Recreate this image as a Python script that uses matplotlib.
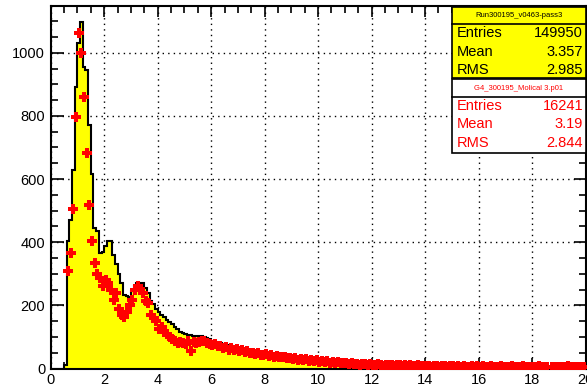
import numpy as np
import matplotlib.pyplot as plt
from matplotlib.patches import Rectangle
from matplotlib.lines import Line2D

plt.rcParams['font.family'] = ['Liberation Sans', 'DejaVu Sans']

# bin edges: 200 bins of 0.1 from 0 to 20
bin_lo = 0.0
bin_hi = 20.0
n_bins = 200

# data histogram (yellow), counts per bin, 10 bins per unit
run_counts = [
    0, 0, 0, 0, 0, 10, 405, 470, 630, 890,
    1030, 1097, 955, 945, 770, 615, 445, 435, 365, 370,
    388, 405, 405, 360, 330, 300, 270, 232, 230, 225,
    245, 262, 270, 272, 270, 255, 240, 215, 205, 190,
    180, 168, 162, 155, 148, 140, 130, 125, 115, 112,
    108, 106, 105, 103, 104, 101, 102, 100, 98, 92,
    86, 85, 82, 80, 78, 75, 73, 72, 68, 67,
    64, 62, 60, 58, 57, 55, 54, 52, 50, 49,
    47, 46, 44, 43, 42, 40, 39, 38, 37, 36,
    35, 34, 33, 31, 30, 28, 27, 26, 25, 24,
    23, 22, 21, 20, 20, 19, 19, 18, 17, 17,
    16, 16, 15, 15, 14, 14, 14, 13, 13, 12,
    12, 12, 11, 11, 11, 10, 10, 10, 10, 9,
    9, 9, 9, 9, 8, 8, 8, 8, 8, 7,
    7, 7, 7, 7, 7, 6, 6, 6, 6, 6,
    6, 6, 6, 5, 5, 5, 5, 5, 5, 5,
    5, 5, 5, 5, 4, 4, 4, 4, 4, 4,
    4, 4, 4, 4, 4, 4, 3, 3, 3, 3,
    3, 3, 3, 3, 3, 3, 3, 3, 3, 3,
    3, 3, 3, 3, 2, 2, 2, 2, 2, 2,
]

# simulation (red points), scaled counts per bin
g4_counts = [
    0, 0, 0, 0, 0, 0, 310, 365, 505, 797,
    1061, 1000, 861, 681, 518, 405, 333, 300, 286, 262,
    280, 272, 250, 217, 238, 190, 168, 164, 180, 200,
    217, 249, 262, 252, 238, 215, 208, 170, 160, 150,
    125, 130, 115, 108, 100, 95, 88, 80, 85, 82,
    78, 88, 55, 85, 82, 85, 88, 86, 80, 78,
    74, 78, 70, 72, 66, 68, 60, 64, 58, 62,
    55, 58, 52, 54, 48, 50, 46, 49, 44, 42,
    45, 40, 42, 38, 40, 36, 35, 37, 33, 34,
    30, 32, 28, 31, 27, 29, 25, 27, 24, 26,
    22, 25, 20, 23, 19, 21, 18, 22, 17, 19,
    16, 14, 17, 13, 15, 12, 14, 13, 11, 13,
    12, 10, 13, 11, 9, 12, 10, 11, 9, 10,
    10, 9, 11, 8, 10, 9, 8, 10, 9, 8,
    7, 8, 6, 8, 7, 6, 7, 8, 6, 7,
    7, 6, 8, 6, 7, 6, 5, 7, 6, 7,
    6, 7, 5, 6, 7, 6, 5, 6, 7, 6,
    6, 5, 7, 6, 5, 6, 7, 5, 6, 6,
    5, 6, 7, 5, 6, 6, 0, 6, 5, 6,
    6, 5, 6, 7, 5, 6, 5, 6, 5, 6,
]

run_title = 'Run300195_v0463-pass3'
run_stats = [('Entries', '149950'), ('Mean', '3.357'), ('RMS', '2.985')]
g4_title = 'G4_300195_Molical 3.p01'
g4_stats = [('Entries', '16241'), ('Mean', '3.19'), ('RMS', '2.844')]

W, H = 587, 390


def fx(px):
    return px / W


def fy(py):
    return 1 - py / H


fig = plt.figure(figsize=(W / 100, H / 100), dpi=100)
ax = fig.add_axes([fx(50.7), fy(368.5), fx(585.5 - 50.7), (368.5 - 6) / H])

edges = np.linspace(bin_lo, bin_hi, n_bins + 1)
centers = 0.5 * (edges[:-1] + edges[1:])
run = np.array(run_counts, dtype=float)
g4 = np.array(g4_counts, dtype=float)

ax.stairs(run, edges, fill=True, color='#ffff00', zorder=2)
ax.stairs(run, edges, color='black', lw=1.5, zorder=3)
m = g4 > 0
ax.plot(centers[m], g4[m], 'P', color='red', ms=6.5, mew=0, zorder=4)

ax.set_xlim(0, 20)
ax.set_ylim(0, 1148)
ax.set_xticks(np.arange(0, 21, 2))
ax.set_xticks(np.arange(0, 20.01, 0.5), minor=True)
ax.set_yticks(np.arange(0, 1001, 200))
ax.set_yticks(np.arange(0, 1148, 50), minor=True)
ax.grid(True, which='major', color='black', linestyle=(0, (1, 3)), lw=1, zorder=1)
ax.set_axisbelow(True)
ax.tick_params(which='both', direction='in', top=True, right=True, width=1.2,
               labelsize=10.5, colors='black')
ax.tick_params(axis='y', which='major', length=9, pad=4)
ax.tick_params(axis='y', which='minor', length=5)
ax.tick_params(axis='x', which='major', length=8, pad=3)
ax.tick_params(axis='x', which='minor', length=5)
for s in ax.spines.values():
    s.set_linewidth(1.5)

# stats boxes
bx0, bx1 = 451.7, 586
fig.add_artist(Rectangle((fx(bx0), fy(78.3)), fx(bx1 - bx0), (78.3 - 6.7) / H,
                         transform=fig.transFigure, facecolor='#ffff00',
                         edgecolor='black', lw=1.2, zorder=5))
fig.add_artist(Rectangle((fx(bx0), fy(152.7)), fx(bx1 - bx0), (152.7 - 79.3) / H,
                         transform=fig.transFigure, facecolor='white',
                         edgecolor='black', lw=1.2, zorder=5))
for yy in (24, 96.7):
    fig.add_artist(Line2D([fx(bx0), fx(bx1)], [fy(yy), fy(yy)],
                          transform=fig.transFigure, color='black', lw=1.2, zorder=6))

xm = 0.5 * (bx0 + bx1)
fig.text(fx(xm), fy(15.5), run_title, fontsize=5.5, ha='center', va='center', zorder=7)
fig.text(fx(xm), fy(88), g4_title, fontsize=5.5, ha='center', va='center',
         color='red', zorder=7)
for i, (k, v) in enumerate(run_stats):
    yy = 33 + i * 18.5
    fig.text(fx(457), fy(yy), k, fontsize=10.5, ha='left', va='center', zorder=7)
    fig.text(fx(583), fy(yy), v, fontsize=10.5, ha='right', va='center', zorder=7)
for i, (k, v) in enumerate(g4_stats):
    yy = 106 + i * 18.5
    fig.text(fx(457), fy(yy), k, fontsize=10.5, ha='left', va='center',
             color='red', zorder=7)
    fig.text(fx(583), fy(yy), v, fontsize=10.5, ha='right', va='center',
             color='red', zorder=7)

fig.savefig('out.png', dpi=100)
